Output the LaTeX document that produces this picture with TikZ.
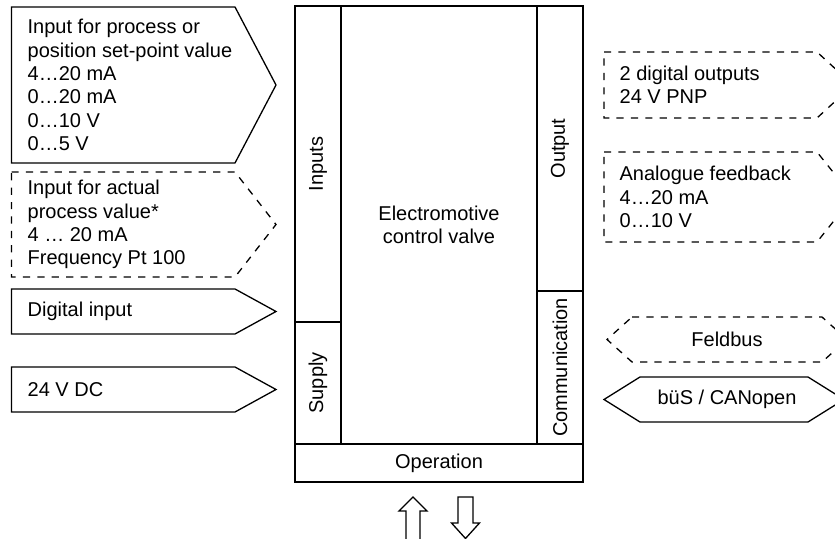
\documentclass[tikz,border=0pt]{standalone}
\usepackage{fontspec}
\setmainfont{Liberation Sans}
\begin{document}
\begin{tikzpicture}[x=0.5pt, y=-0.5pt, line width=0.65pt,
    font=\fontsize{10}{11.65}\selectfont,
    dsh/.style={dash pattern=on 3.6pt off 3.6pt},
    lbl/.style={inner sep=0pt, align=left, anchor=west},
    vlbl/.style={inner sep=0pt, rotate=90}]
    \useasboundingbox (0,0) rectangle (835,539);

    % Inputs (left)
    \draw (11.5,7) -- (235,7) -- (276,85) -- (235,163) -- (11.5,163) -- cycle;
    \draw[dsh] (11.5,172) -- (235,172) -- (276,224.5) -- (235,277) -- (11.5,277) -- cycle;
    \draw (11.5,289) -- (235,289) -- (276,311.5) -- (235,334) -- (11.5,334) -- cycle;
    \draw (11.5,367) -- (235,367) -- (276,389.5) -- (235,412) -- (11.5,412) -- cycle;
    \node[lbl] (setpoint) at (27,85) {Input for process or\\position set-point value\\4…20 mA\\0…20 mA\\0…10 V\\0…5 V};
    \node[lbl] (actual) at (27,224.5) {Input for actual\\process value*\\4 … 20 mA\\Frequency Pt 100};
    \node[lbl] (digin) at (27,311.5) {Digital input};
    \node[lbl] (dcin) at (27,389.5) {24 V DC};

    % Valve
    \draw (295,6) rectangle (583,482);
    \draw (295,444) -- (583,444);
    \draw (341,6) -- (341,444);
    \draw (537,6) -- (537,444);
    \draw (295,322) -- (341,322);
    \draw (537,291) -- (583,291);
    \node[vlbl] (inputs) at (318,164) {Inputs};
    \node[vlbl] (supply) at (318,383) {Supply};
    \node[vlbl] (output) at (560,148.5) {Output};
    \node[vlbl] (comm) at (560,367.5) {Communication};
    \node[align=center, inner sep=0pt] (valve) at (439,225) {Electromotive\\control valve};
    \node[inner sep=0pt] (operation) at (439,463) {Operation};

    % Operation arrows
    \draw (406,541) -- (406,511) -- (399,511) -- (413,497) -- (427,511) -- (420,511) -- (420,541);
    \draw (458,497) -- (473,497) -- (473,523) -- (479.5,523) -- (465.5,538.5) -- (451.5,523) -- (458,523) -- cycle;

    % Outputs (right)
    \draw[dsh] (604,52) -- (817,52) -- (853,85) -- (817,118) -- (604,118) -- cycle;
    \draw[dsh] (604,152) -- (817,152) -- (853,197) -- (817,242) -- (604,242) -- cycle;
    \draw[dsh] (632,317) -- (822,317) -- (847,339.5) -- (822,362) -- (632,362) -- (607,339.5) -- cycle;
    \draw (640,377) -- (808,377) -- (844,399.5) -- (808,422) -- (640,422) -- (604,399.5) -- cycle;
    \node[lbl] (digout) at (619,85) {2 digital outputs\\24 V PNP};
    \node[lbl] (feedback) at (619,197) {Analogue feedback\\4…20 mA\\0…10 V};
    \node[inner sep=0pt] (feldbus) at (727,339.5) {Feldbus};
    \node[inner sep=0pt] (bues) at (727,399.5) {büS / CANopen};
\end{tikzpicture}
\end{document}
